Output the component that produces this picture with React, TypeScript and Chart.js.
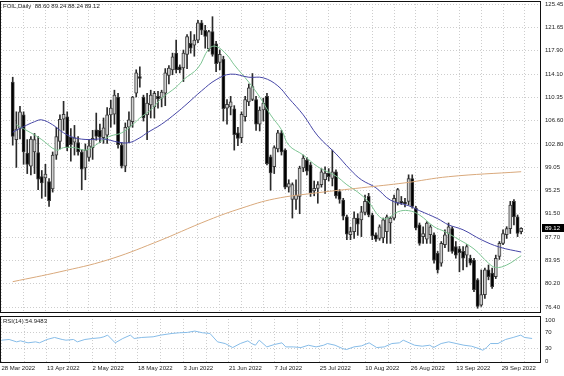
import React, { useEffect, useRef } from 'react';
import { Chart, registerables } from 'chart.js';

Chart.register(...registerables);

// ---- data ----
const symbolName = 'FOIL,Daily';
const dateLabels = ['28 Mar 2022', '13 Apr 2022', '2 May 2022', '18 May 2022', '3 Jun 2022', '21 Jun 2022', '7 Jul 2022', '25 Jul 2022', '10 Aug 2022', '26 Aug 2022', '13 Sep 2022', '29 Sep 2022'];
const barsPerLabel = 12;
const barsPerGrid = 6;
const priceTicks = [125.45, 121.65, 117.9, 114.1, 110.35, 106.6, 102.8, 99.05, 95.25, 91.5, 87.7, 83.95, 80.2, 76.4];
const rsiTicks = [100, 70, 30, 0];
const rsiCurrent = 54.9483;

const opens = [112.8, 103.5, 105.3, 107.5, 101.3, 99.2, 101.5, 101.4, 97.5, 97.3,
  96.7, 95.5, 101.0, 103.2, 106.8, 107.2, 103.9, 103.1, 103.0, 101.5,
  98.9, 100.6, 102.2, 105.1, 105.0, 103.8, 104.2, 107.5, 107.6, 110.4,
  102.6, 99.2, 105.5, 106.4, 111.0, 113.7, 110.4, 107.5, 109.1, 108.8,
  110.5, 110.2, 111.0, 113.9, 114.8, 117.5, 115.3, 115.1, 117.3, 119.1,
  118.8, 119.6, 122.4, 121.2, 118.2, 121.0, 119.0, 116.0, 116.5, 108.6,
  108.8, 108.5, 104.6, 103.8, 107.2, 109.6, 110.0, 110.0, 106.0, 108.3,
  110.5, 100.7, 99.1, 102.0, 104.6, 101.8, 95.8, 93.8, 93.8, 94.3,
  98.9, 100.2, 99.4, 95.2, 95.6, 96.2, 97.0, 98.1, 97.2, 98.3,
  95.1, 93.7, 91.0, 88.1, 88.6, 90.8, 90.5, 91.7, 94.3, 91.3,
  88.1, 87.5, 87.6, 88.6, 90.0, 90.8, 93.2, 93.5, 93.4, 93.5,
  97.2, 92.4, 89.7, 87.8, 87.4, 88.1, 88.1, 85.1, 83.5, 86.5,
  88.3, 89.1, 86.2, 85.8, 85.4, 84.8, 84.3, 84.0, 80.8, 76.7,
  78.4, 82.4, 81.9, 81.3, 84.6, 86.7, 88.1, 89.1, 93.5, 91.0,
  88.6];
const highs = [113.6, 108.0, 108.9, 108.0, 103.5, 104.0, 104.5, 104.0, 98.5, 99.5,
  97.2, 101.5, 105.5, 107.5, 109.7, 108.0, 105.3, 105.8, 104.0, 101.9,
  102.8, 103.5, 105.0, 107.8, 106.0, 107.0, 108.7, 109.9, 111.5, 111.0,
  103.0, 106.2, 108.0, 110.5, 114.8, 115.3, 110.7, 111.0, 111.5, 111.3,
  111.3, 111.5, 115.0, 115.5, 117.5, 119.6, 115.6, 118.0, 120.5, 121.0,
  120.5, 122.8, 122.8, 122.0, 121.2, 123.4, 119.4, 118.0, 117.0, 110.0,
  110.5, 109.0, 105.5, 108.0, 110.5, 112.5, 114.2, 110.5, 108.8, 110.2,
  111.0, 101.0, 102.5, 105.0, 105.0, 102.0, 97.0, 96.5, 97.0, 99.2,
  101.0, 100.6, 99.8, 96.8, 96.7, 98.8, 99.1, 98.8, 101.8, 98.6,
  95.4, 94.0, 91.3, 89.3, 91.8, 91.5, 92.7, 94.5, 94.8, 91.6,
  88.4, 89.7, 90.8, 91.3, 91.0, 94.5, 95.6, 94.3, 94.0, 97.8,
  97.8, 92.7, 90.0, 89.4, 90.2, 89.7, 88.4, 85.4, 87.0, 88.9,
  90.0, 89.4, 87.0, 86.2, 86.2, 86.5, 84.8, 84.3, 81.0, 82.4,
  82.7, 83.2, 82.7, 84.8, 87.0, 88.9, 89.4, 93.5, 93.8, 91.3,
  89.24];
const lows = [102.6, 99.0, 103.6, 99.5, 98.0, 97.8, 98.0, 95.4, 94.0, 94.3,
  92.7, 95.0, 100.3, 102.0, 105.0, 101.7, 100.0, 101.0, 101.0, 95.4,
  97.0, 100.0, 100.3, 103.4, 103.0, 102.9, 102.9, 105.5, 106.0, 102.1,
  98.9, 98.3, 103.0, 105.5, 110.4, 112.0, 106.5, 103.5, 107.0, 107.0,
  108.6, 108.8, 109.0, 112.5, 114.0, 114.3, 114.3, 112.9, 115.0, 117.5,
  117.0, 119.2, 120.5, 118.3, 117.8, 117.0, 114.5, 114.8, 106.5, 106.0,
  107.5, 101.8, 102.5, 103.0, 106.5, 109.0, 109.8, 105.0, 104.9, 106.5,
  99.4, 95.3, 98.0, 101.5, 101.0, 95.5, 95.0, 90.8, 92.2, 91.5,
  98.3, 97.8, 94.3, 94.4, 93.2, 95.8, 94.8, 96.8, 96.0, 94.0,
  93.2, 90.5, 87.3, 87.3, 87.5, 88.0, 87.8, 91.3, 91.0, 87.3,
  87.0, 87.2, 86.8, 86.7, 86.7, 90.5, 92.9, 93.0, 92.6, 92.9,
  92.4, 88.9, 86.4, 86.7, 86.7, 86.7, 83.5, 81.9, 83.0, 86.0,
  85.4, 85.1, 84.3, 82.1, 82.4, 82.9, 83.2, 78.9, 76.2, 76.5,
  77.8, 80.8, 79.4, 81.0, 84.1, 86.5, 87.5, 88.3, 89.7, 87.8,
  88.24];
const closes = [104.0, 105.2, 108.0, 101.5, 99.5, 103.6, 103.5, 97.1, 96.5, 97.9,
  93.6, 101.0, 104.0, 106.8, 107.6, 102.2, 102.7, 103.8, 101.5, 98.7,
  101.8, 102.5, 103.7, 104.0, 103.9, 105.4, 107.5, 108.6, 110.7, 102.7,
  99.2, 105.5, 106.7, 110.4, 114.3, 113.4, 107.0, 109.4, 110.7, 111.0,
  110.1, 111.2, 114.3, 115.1, 116.9, 114.8, 114.8, 117.5, 120.2, 118.3,
  119.6, 122.4, 121.2, 120.2, 121.0, 117.3, 115.8, 117.3, 108.5, 109.2,
  109.6, 104.3, 103.7, 107.6, 110.0, 111.9, 112.1, 106.0, 108.3, 109.4,
  99.6, 98.1, 102.2, 104.6, 101.5, 95.8, 96.4, 96.2, 94.5, 98.9,
  100.5, 98.4, 94.9, 95.6, 96.2, 98.3, 98.1, 97.5, 98.3, 94.4,
  93.8, 91.1, 88.2, 88.6, 90.8, 89.8, 91.8, 93.5, 91.3, 87.9,
  87.4, 89.4, 90.5, 91.0, 90.8, 94.0, 95.4, 93.2, 93.1, 97.2,
  92.7, 89.2, 86.7, 88.3, 90.0, 89.4, 84.0, 82.4, 86.7, 88.1,
  89.4, 85.4, 84.8, 85.2, 84.3, 86.2, 83.5, 79.2, 76.5, 78.4,
  82.4, 81.3, 79.7, 84.3, 86.7, 88.3, 89.1, 92.9, 91.0, 88.3,
  89.12];

// moving averages: [bar index, price]
const maFast = [[1, 105.9], [5, 104.6], [8, 103.5], [12, 101.8], [14, 102.2], [17, 102.2], [20, 101.8], [22, 102.3], [25, 103.5], [27, 104.1], [30, 104.6], [33, 105.9], [35, 107.0], [38, 108.3], [41, 110.2], [45, 112.0], [47, 113.2], [51, 115.1], [54, 118.2], [56, 118.6], [59, 117.2], [61, 115.6], [65, 112.8], [68, 110.4], [71, 107.5], [74, 105.1], [76, 102.6], [80, 101.0], [84, 99.1], [89, 97.6], [92, 96.2], [95, 95.0], [98, 93.4], [101, 91.0], [103, 90.7], [106, 91.8], [109, 92.0], [112, 91.3], [116, 89.4], [119, 88.6], [122, 87.6], [127, 85.8], [131, 83.5], [133, 82.8], [136, 83.2], [140, 84.7]];
const maMid = [[0, 104.7], [3, 105.6], [6, 106.4], [8, 106.7], [11, 105.9], [14, 104.6], [17, 103.8], [21, 103.5], [25, 103.6], [29, 103.1], [32, 103.0], [35, 103.8], [37, 104.6], [41, 106.0], [45, 107.8], [48, 109.3], [52, 111.4], [56, 113.2], [60, 114.1], [65, 113.6], [69, 113.5], [73, 112.2], [76, 110.2], [80, 107.5], [84, 104.1], [89, 101.2], [93, 98.6], [96, 97.0], [100, 95.7], [104, 93.7], [109, 92.8], [112, 92.0], [117, 90.7], [120, 89.7], [124, 88.9], [129, 87.3], [134, 86.1], [140, 85.3]];
const maSlow = [[0, 80.5], [13, 82.1], [26, 84.0], [39, 86.8], [54, 90.5], [63, 92.4], [72, 93.9], [84, 94.9], [96, 95.7], [108, 96.5], [120, 97.5], [140, 98.3]];

// RSI(14): [bar index, value]
const rsiPoints = [[0, 50.8], [2, 52.5], [4, 46.7], [5, 49.2], [7, 44.3], [9, 46.7], [10, 44.3], [12, 52.5], [14, 57.4], [16, 52.5], [17, 50.8], [19, 52.5], [20, 46.7], [22, 52.5], [24, 54.9], [26, 56.6], [27, 59.0], [28, 63.1], [30, 44.3], [32, 54.9], [34, 63.1], [35, 54.9], [37, 57.4], [40, 59.0], [42, 63.1], [45, 67.2], [47, 68.9], [49, 69.7], [51, 73.0], [53, 68.9], [55, 67.2], [57, 46.7], [59, 42.6], [61, 32.8], [63, 42.6], [65, 49.2], [66, 42.6], [67, 38.5], [68, 50.8], [70, 34.4], [72, 40.2], [74, 44.3], [75, 34.4], [77, 34.4], [79, 32.8], [81, 38.5], [83, 34.4], [85, 38.5], [86, 42.6], [88, 38.5], [90, 30.3], [91, 27.9], [93, 34.4], [95, 36.9], [97, 44.3], [99, 32.8], [101, 34.4], [103, 42.6], [105, 44.3], [106, 50.8], [107, 46.7], [109, 38.5], [111, 36.1], [113, 38.5], [114, 32.8], [116, 42.6], [118, 46.7], [120, 42.6], [122, 38.5], [124, 36.1], [126, 30.3], [127, 26.2], [128, 32.8], [129, 42.6], [131, 42.6], [133, 52.5], [135, 57.4], [137, 63.1], [138, 57.4], [140, rsiCurrent]];

// ---- styling ----
const FONT = 'Liberation Sans, Arial, sans-serif';
const GRID = '#cdcdcd';
const X_MIN = -0.4;
const X_MAX = 142.35;
const Y_MIN = 75.43;
const Y_MAX = 125.94;
const RSI_MIN = -4.88;
const RSI_MAX = 109.76;

const last = closes.length - 1;
const gridTicks: number[] = [];
for (let v = 0; v <= last; v += barsPerGrid) gridTicks.push(v);

const framePlugin = {
  id: 'frame',
  afterDraw(chart: any) {
    const { ctx, chartArea } = chart;
    const l = Math.round(chartArea.left), t = Math.round(chartArea.top);
    const r = Math.round(chartArea.right), b = Math.round(chartArea.bottom);
    ctx.save();
    ctx.strokeStyle = '#111';
    ctx.lineWidth = 1;
    ctx.strokeRect(l + 0.5, t + 0.5, r - l - 1, b - t - 1);
    ctx.restore();
  },
};

const priceTagPlugin = {
  id: 'priceTag',
  afterDraw(chart: any) {
    const { ctx, chartArea } = chart;
    const y = Math.round(chart.scales.y.getPixelForValue(closes[last]));
    ctx.save();
    ctx.fillStyle = '#000';
    ctx.fillRect(chartArea.right + 1, y - 4, 22, 8);
    ctx.fillStyle = '#fff';
    ctx.font = `6px ${FONT}`;
    ctx.textBaseline = 'middle';
    ctx.textAlign = 'left';
    ctx.fillText(closes[last].toFixed(2), chartArea.right + 4, y + 0.5);
    ctx.restore();
  },
};

export default function App() {
  const mainRef = useRef<HTMLCanvasElement>(null);
  const rsiRef = useRef<HTMLCanvasElement>(null);

  useEffect(() => {
    const idx = closes.map((_, i) => i);
    const bull = idx.map((i) => closes[i] >= opens[i]);

    const main = new Chart(mainRef.current as HTMLCanvasElement, {
      type: 'bar',
      data: {
        datasets: [
          {
            type: 'line',
            data: maSlow.map(([x, y]) => ({ x, y })),
            borderColor: '#d9a97c',
            borderWidth: 1,
            pointRadius: 0,
            tension: 0.4,
            order: 0,
          } as any,
          {
            type: 'line',
            data: maMid.map(([x, y]) => ({ x, y })),
            borderColor: '#4646a6',
            borderWidth: 1,
            pointRadius: 0,
            tension: 0.4,
            order: 0,
          } as any,
          {
            type: 'line',
            data: maFast.map(([x, y]) => ({ x, y })),
            borderColor: '#7cc492',
            borderWidth: 1,
            pointRadius: 0,
            tension: 0.4,
            order: 0,
          } as any,
          {
            type: 'bar',
            data: idx.map((i) => ({ x: i, y: [opens[i], closes[i]] })),
            backgroundColor: idx.map((i) => (bull[i] ? '#cfcfcf' : '#000000')),
            borderColor: '#3a3a3a',
            borderWidth: 1,
            borderSkipped: false,
            barThickness: 3.2,
            grouped: false,
            order: 1,
          } as any,
          {
            type: 'bar',
            data: idx.map((i) => ({ x: i, y: [lows[i], highs[i]] })),
            backgroundColor: '#2a2a2a',
            borderWidth: 0,
            barThickness: 1,
            grouped: false,
            order: 2,
          } as any,
        ],
      },
      options: {
        animation: false,
        responsive: false,
        maintainAspectRatio: false,
        devicePixelRatio: 1,
        layout: { padding: { top: 1, left: 0, right: 0, bottom: 1 } },
        plugins: { legend: { display: false }, tooltip: { enabled: false } },
        scales: {
          x: {
            type: 'linear',
            min: X_MIN,
            max: X_MAX,
            afterBuildTicks: (s: any) => { s.ticks = gridTicks.map((v) => ({ value: v })); },
            ticks: { display: false },
            grid: { color: GRID, drawTicks: false },
            border: { display: false, dash: [1, 2] },
            afterFit: (s: any) => { s.height = 0; s.paddingLeft = 0; s.paddingRight = 0; },
          },
          y: {
            type: 'linear',
            position: 'right',
            min: Y_MIN,
            max: Y_MAX,
            afterBuildTicks: (s: any) => { s.ticks = priceTicks.map((v) => ({ value: v })); },
            ticks: {
              callback: (v: any) => Number(v).toFixed(2),
              font: { family: FONT, size: 6 },
              color: '#222',
              padding: 4,
            },
            grid: { color: GRID, drawTicks: false },
            border: { display: false, dash: [1, 2] },
            afterFit: (s: any) => { s.width = 23; s.paddingTop = 0; s.paddingBottom = 0; },
          },
        },
      } as any,
      plugins: [framePlugin, priceTagPlugin],
    });

    const rsi = new Chart(rsiRef.current as HTMLCanvasElement, {
      type: 'line',
      data: {
        datasets: [
          {
            data: rsiPoints.map(([x, y]) => ({ x, y })),
            borderColor: '#86bce8',
            borderWidth: 1,
            pointRadius: 0,
            tension: 0,
          },
        ],
      },
      options: {
        animation: false,
        responsive: false,
        maintainAspectRatio: false,
        devicePixelRatio: 1,
        layout: { padding: { top: 2, left: 0, right: 0, bottom: 0 } },
        plugins: { legend: { display: false }, tooltip: { enabled: false } },
        scales: {
          x: {
            type: 'linear',
            min: X_MIN,
            max: X_MAX,
            afterBuildTicks: (s: any) => { s.ticks = gridTicks.map((v) => ({ value: v })); },
            ticks: {
              autoSkip: false,
              maxRotation: 0,
              align: 'start',
              padding: 2,
              font: { family: FONT, size: 6 },
              color: '#222',
              callback: (v: any) => (Number(v) % barsPerLabel === 0 ? dateLabels[Number(v) / barsPerLabel] || '' : ''),
            },
            grid: { color: GRID, drawTicks: false },
            border: { display: false, dash: [1, 2] },
            afterFit: (s: any) => { s.height = 13; s.paddingLeft = 0; s.paddingRight = 0; },
          },
          y: {
            type: 'linear',
            position: 'right',
            min: RSI_MIN,
            max: RSI_MAX,
            afterBuildTicks: (s: any) => { s.ticks = rsiTicks.map((v) => ({ value: v })); },
            ticks: {
              font: { family: FONT, size: 6 },
              color: '#222',
              padding: 4,
            },
            grid: {
              color: (c: any) => (c.tick && (c.tick.value === 70 || c.tick.value === 30) ? GRID : 'rgba(0,0,0,0)'),
              drawTicks: false,
            },
            border: { display: false, dash: [1, 2] },
            afterFit: (s: any) => { s.width = 23; s.paddingTop = 0; s.paddingBottom = 0; },
          },
        },
      } as any,
      plugins: [framePlugin],
    });

    return () => {
      main.destroy();
      rsi.destroy();
    };
  }, []);

  const header = `${symbolName}  ${opens[last].toFixed(2)} ${highs[last].toFixed(2)} ${lows[last].toFixed(2)} ${closes[last].toFixed(2)}`;
  const textStyle: React.CSSProperties = {
    position: 'absolute',
    font: `6px ${FONT}`,
    color: '#222',
    whiteSpace: 'pre',
    lineHeight: '7px',
  };

  return (
    <div style={{ position: 'fixed', left: 0, top: 0, width: 564, height: 376, background: '#fff', overflow: 'hidden' }}>
      <canvas ref={mainRef} width={564} height={314} style={{ position: 'absolute', left: 0, top: 0, width: 564, height: 314 }} />
      <canvas ref={rsiRef} width={564} height={62} style={{ position: 'absolute', left: 0, top: 314, width: 564, height: 62 }} />
      <div style={{ ...textStyle, left: 3, top: 3 }}>{header}</div>
      <div style={{ ...textStyle, left: 3, top: 318 }}>{`RSI(14) ${rsiCurrent.toFixed(4)}`}</div>
    </div>
  );
}
